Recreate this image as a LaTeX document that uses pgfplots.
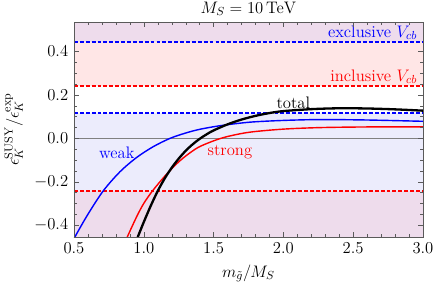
\RequirePackage{fix-cm}
\documentclass[border=0pt]{standalone}
\usepackage{pgfplots}
\pgfplotsset{compat=1.18}
\definecolor{purpleband}{RGB}{238,220,236}
\definecolor{blueband}{RGB}{236,236,252}
\definecolor{pinkband}{RGB}{255,230,230}
\definecolor{framegray}{RGB}{90,90,90}
\begin{document}
\fontsize{13}{15}\selectfont
\begin{tikzpicture}[font=\fontsize{13}{15}\selectfont]
\begin{axis}[
  scale only axis,
  width=272.2pt, height=167.7pt,
  xmin=0.5, xmax=3.0, ymin=-0.455, ymax=0.535,
  axis on top,
  axis line style={framegray},
  tick style={framegray},
  tick align=inside,
  major tick length=4pt, minor tick length=2.2pt,
  xtick={0.5,1.0,1.5,2.0,2.5,3.0},
  ytick={-0.4,-0.2,0,0.2,0.4},
  minor x tick num=4, minor y tick num=3,
  xticklabel style={/pgf/number format/.cd,fixed,fixed zerofill,precision=1},
  yticklabel style={/pgf/number format/.cd,fixed,fixed zerofill,precision=1},
  xlabel={$m_{\tilde g}/M_S$},
  ylabel={$\epsilon_K^{\mathrm{SUSY}}/\epsilon_K^{\mathrm{exp}}$},
  clip=true,
]
% bands
\addplot[draw=none, fill=purpleband] coordinates {(0.5,-0.455) (3,-0.455) (3,-0.242) (0.5,-0.242)} -- cycle;
\addplot[draw=none, fill=blueband] coordinates {(0.5,-0.242) (3,-0.242) (3,0.115) (0.5,0.115)} -- cycle;
\addplot[draw=none, fill=pinkband] coordinates {(0.5,0.241) (3,0.241) (3,0.441) (0.5,0.441)} -- cycle;
\addplot[draw=none, fill=purpleband] coordinates {(0.5,0.441) (3,0.441) (3,0.535) (0.5,0.535)} -- cycle;
% zero line
\addplot[gray, line width=0.5pt] coordinates {(0.5,0) (3,0)};
% dashed bounds
\addplot[blue, line width=1.6pt, dash pattern=on 3pt off 1.6pt] coordinates {(0.5,0.441) (3,0.441)};
\addplot[red, line width=1.6pt, dash pattern=on 3pt off 1.6pt] coordinates {(0.5,0.241) (3,0.241)};
\addplot[blue, line width=1.6pt, dash pattern=on 3pt off 1.6pt] coordinates {(0.5,0.115) (3,0.115)};
\addplot[red, line width=1.6pt, dash pattern=on 3pt off 1.6pt] coordinates {(0.5,-0.242) (3,-0.242)};
% weak
\addplot[blue, line width=1.1pt, smooth] coordinates {
(0.49,-0.478) (0.514,-0.446) (0.6,-0.35) (0.71,-0.242) (0.83,-0.154) (0.95,-0.088)
(1.07,-0.038) (1.19,0.0) (1.3,0.024) (1.4,0.041) (1.55,0.058) (1.76,0.074)
(2.0,0.082) (2.26,0.086) (2.6,0.084) (3.0,0.078)};
% strong
\addplot[red, line width=1.1pt, smooth] coordinates {
(0.87,-0.475) (0.885,-0.45) (0.95,-0.36) (1.0,-0.30) (1.063,-0.242) (1.15,-0.175)
(1.235,-0.118) (1.3,-0.082) (1.39,-0.042) (1.5,-0.012) (1.6,0.008) (1.76,0.028)
(2.0,0.042) (2.26,0.049) (2.6,0.052) (3.0,0.052)};
% total
\addplot[black, line width=1.8pt, smooth] coordinates {
(0.945,-0.475) (0.96,-0.45) (1.0,-0.386) (1.05,-0.311) (1.10,-0.243) (1.15,-0.185)
(1.20,-0.136) (1.25,-0.094) (1.30,-0.058) (1.35,-0.028) (1.40,-0.003) (1.45,0.018)
(1.5,0.036) (1.6,0.064) (1.7,0.086) (1.8,0.103) (1.9,0.116) (2.0,0.125)
(2.2,0.134) (2.4,0.138) (2.6,0.137) (2.8,0.133) (3.0,0.127)};
% labels
\node[blue] at (axis cs:0.806,-0.069) {weak};
\node[red] at (axis cs:1.617,-0.062) {strong};
\node[black] at (axis cs:2.071,0.164) {total};
\node[blue, anchor=east, inner sep=0pt] at (axis cs:2.96,0.485) {exclusive $V_{cb}$};
\node[red, anchor=east, inner sep=0pt] at (axis cs:2.96,0.284) {inclusive $V_{cb}$};
\end{axis}
\node[anchor=base, inner sep=0pt, yshift=7pt] at (current axis.north) {$M_S = 10\,\mathrm{TeV}$};
\pgfresetboundingbox
\path[use as bounding box] (current axis.south west) ++(-57.7pt,-39pt) rectangle ++(342.4pt,223.9pt);
\end{tikzpicture}
\end{document}
